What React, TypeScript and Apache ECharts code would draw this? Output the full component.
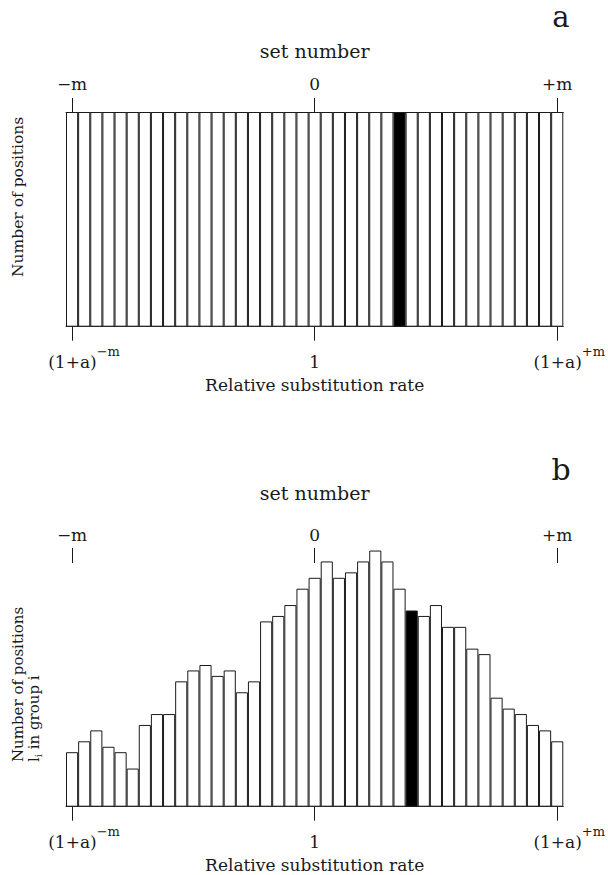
import React, { useEffect, useRef } from "react";
import * as echarts from "echarts";

// set numbers (categories), from -m to +m with m = 20
const setNumbers = [
  -20, -19, -18, -17, -16, -15, -14, -13, -12, -11, -10, -9, -8, -7, -6, -5, -4, -3, -2, -1,
  0, 1, 2, 3, 4, 5, 6, 7, 8, 9, 10, 11, 12, 13, 14, 15, 16, 17, 18, 19, 20,
];

// panel a: every set has the same number of positions
const panelAValues = [
  1, 1, 1, 1, 1, 1, 1, 1, 1, 1, 1, 1, 1, 1, 1, 1, 1, 1, 1, 1,
  1, 1, 1, 1, 1, 1, 1, 1, 1, 1, 1, 1, 1, 1, 1, 1, 1, 1, 1, 1, 1,
];
const panelAHighlightSet = 7;

// panel b: number of positions l_i in group i
const panelBValues = [
  10, 12, 14, 11, 10, 7, 15, 17, 17, 23, 25, 26, 24, 25, 21, 23, 34, 35, 37, 40,
  42, 45, 42, 43, 45, 47, 45, 40, 36, 35, 37, 33, 33, 29, 28, 20, 18, 17, 15, 14, 12,
];
const panelBHighlightSet = 8;

// tick labels shown at set -m, 0, +m
const tickSets = [-20, 0, 20];
const topTickLabels = ["\u2212m", "0", "+m"];
const bottomTickBase = ["(1+a)", "1", "(1+a)"];
const bottomTickSup = ["\u2212m", "", "+m"];

const FONT = "DejaVu Serif";
const INK = "#1a1a1a";

export default function App() {
  const ref = useRef<HTMLDivElement>(null);

  useEffect(() => {
    if (!ref.current) return;
    const chart = echarts.init(ref.current, undefined, { renderer: "svg" });

    const cats = setNumbers.map((v) => String(v));
    const tickIdx = tickSets.map((s) => setNumbers.indexOf(s));
    const isTick = (i: number) => tickIdx.indexOf(i) >= 0;

    const topLabel = (_v: string, i: number) => {
      const k = tickIdx.indexOf(i);
      return k >= 0 ? topTickLabels[k] : "";
    };
    const bottomLabel = (_v: string, i: number) => {
      const k = tickIdx.indexOf(i);
      if (k < 0) return "";
      if (bottomTickSup[k]) return "{pad|}{b|" + bottomTickBase[k] + "}{s|" + bottomTickSup[k] + "}";
      return "{b|" + bottomTickBase[k] + "}";
    };

    const bottomAxis = (gridIndex: number) => ({
      type: "category",
      gridIndex,
      position: "bottom",
      data: cats,
      axisLine: { show: true, lineStyle: { color: INK, width: 1 } },
      axisTick: {
        show: true,
        interval: (i: number) => isTick(i),
        alignWithLabel: true,
        length: 14,
        lineStyle: { color: INK, width: 1 },
      },
      axisLabel: {
        interval: (i: number) => isTick(i),
        formatter: bottomLabel,
        margin: 18,
        color: INK,
        rich: {
          pad: { width: 24, fontSize: 13 },
          b: { fontFamily: FONT, fontSize: 17, color: INK, lineHeight: 26, verticalAlign: "bottom" },
          s: { fontFamily: FONT, fontSize: 13, color: INK, verticalAlign: "top" },
        },
      },
      splitLine: { show: false },
      name: "Relative substitution rate",
      nameLocation: "middle",
      nameGap: 50,
      nameTextStyle: { fontFamily: FONT, fontSize: 17, color: INK },
    });

    const topAxis = (gridIndex: number, showLine: boolean, offset: number, nameGap: number, tickLen: number) => ({
      type: "category",
      gridIndex,
      position: "top",
      offset,
      data: cats,
      axisLine: { show: showLine, lineStyle: { color: INK, width: 1 } },
      axisTick: {
        show: true,
        interval: (i: number) => isTick(i),
        alignWithLabel: true,
        length: tickLen,
        lineStyle: { color: INK, width: 1 },
      },
      axisLabel: {
        interval: (i: number) => isTick(i),
        formatter: topLabel,
        margin: 20,
        fontFamily: FONT,
        fontSize: 17,
        color: INK,
      },
      splitLine: { show: false },
      name: "set number",
      nameLocation: "middle",
      nameGap,
      nameTextStyle: { fontFamily: FONT, fontSize: 19, color: INK },
    });

    const barStyle = (highlightSet: number) => ({
      color: (p: any) => (setNumbers[p.dataIndex] === highlightSet ? "#000000" : "#ffffff"),
      borderColor: INK,
      borderWidth: 1,
    });

    const option: any = {
      animation: false,
      backgroundColor: "#ffffff",
      textStyle: { fontFamily: FONT },
      grid: [
        { left: 66, width: 502.5, top: 112, height: 214.7 },
        { left: 66, width: 502.5, top: 534.2, height: 272.5 },
      ],
      xAxis: [
        bottomAxis(0),
        topAxis(0, true, 0, 52, 14),
        bottomAxis(1),
        topAxis(1, false, -28.8, 61, 15),
      ],
      yAxis: [
        { type: "value", gridIndex: 0, min: 0, max: 1, show: false },
        { type: "value", gridIndex: 1, min: 0, max: 50, show: false },
      ],
      series: [
        {
          type: "bar",
          xAxisIndex: 0,
          yAxisIndex: 0,
          data: panelAValues,
          barCategoryGap: "0%",
          itemStyle: barStyle(panelAHighlightSet),
        },
        {
          type: "bar",
          xAxisIndex: 2,
          yAxisIndex: 1,
          data: panelBValues,
          barCategoryGap: "0%",
          itemStyle: barStyle(panelBHighlightSet),
        },
      ],
      graphic: [
        {
          type: "text",
          x: 561,
          y: 2,
          style: { text: "a", fontFamily: FONT, fontSize: 29, fill: INK, align: "center", verticalAlign: "top" },
        },
        {
          type: "text",
          x: 561,
          y: 469,
          style: { text: "b", fontFamily: FONT, fontSize: 30, fill: INK, align: "center", verticalAlign: "middle" },
        },
        {
          type: "text",
          x: 18,
          y: 277,
          rotation: Math.PI / 2,
          style: { text: "Number of positions", fontFamily: FONT, fontSize: 15.5, fill: INK, align: "left", verticalAlign: "middle" },
        },
        {
          type: "text",
          x: 18,
          y: 762,
          rotation: Math.PI / 2,
          style: { text: "Number of positions", fontFamily: FONT, fontSize: 15, fill: INK, align: "left", verticalAlign: "middle" },
        },
        {
          type: "text",
          x: 34,
          y: 762,
          rotation: Math.PI / 2,
          style: {
            text: "l{sub|i} in group i",
            fontFamily: FONT,
            fontSize: 15,
            fill: INK,
            align: "left",
            verticalAlign: "middle",
            rich: {
              sub: { fontFamily: FONT, fontSize: 10, fill: INK, verticalAlign: "bottom", padding: [8, 0, 0, 0] },
            },
          },
        },
      ],
    };

    chart.setOption(option);
    return () => chart.dispose();
  }, []);

  return (
    <div
      ref={ref}
      style={{ position: "fixed", left: 0, top: 0, width: 608, height: 875, background: "#fff" }}
    />
  );
}
